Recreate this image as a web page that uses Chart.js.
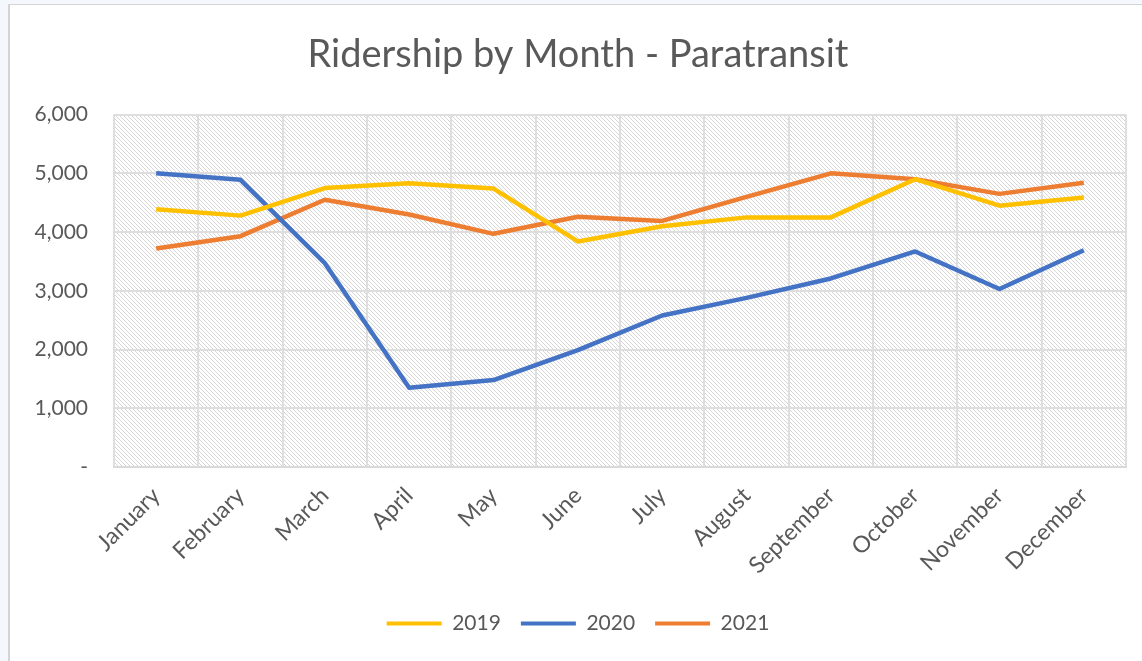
<!DOCTYPE html>
<html>
<head>
<meta charset="utf-8">
<script src="https://cdn.jsdelivr.net/npm/chart.js@4"></script>
<style>
  html, body { margin: 0; padding: 0; width: 1142px; height: 661px; overflow: hidden; background: #f4f7fb; }
  #frame { position: absolute; left: 8px; top: 4px; width: 1140px; height: 660px; background: #fff; border-left: 2px solid #d4d4d4; border-top: 1px solid #d4d4d4; }
  #wrap { position: absolute; left: 0; top: 0; width: 1142px; height: 661px; }
</style>
</head>
<body>
<div id="frame"></div>
<div id="wrap"><canvas id="rideChart"></canvas></div>
<script>
// mesi e valori
const months = ['January', 'February', 'March', 'April', 'May', 'June', 'July', 'August', 'September', 'October', 'November', 'December'];
const rides2019 = [4390, 4280, 4750, 4830, 4740, 3840, 4100, 4250, 4250, 4900, 4450, 4590];
const rides2020 = [5000, 4890, 3470, 1350, 1480, 1990, 2580, 2880, 3210, 3670, 3030, 3690];
const rides2021 = [3720, 3930, 4550, 4300, 3970, 4260, 4190, 4600, 5000, 4900, 4650, 4840];
const yTicks = [0, 1000, 2000, 3000, 4000, 5000, 6000];

const FONT = 'Lato';
const GREY = '#595959';

// tratteggio diagonale dell'area del grafico
function makeHatch() {
  const s = 4;
  const c = document.createElement('canvas');
  c.width = s; c.height = s;
  const g = c.getContext('2d');
  g.fillStyle = '#ffffff';
  g.fillRect(0, 0, s, s);
  g.strokeStyle = '#d6d6d6';
  g.lineWidth = 1;
  g.beginPath();
  for (let k = -s; k <= s; k += s) {
    g.moveTo(k, 0);
    g.lineTo(k + s, s);
  }
  g.stroke();
  return g.createPattern(c, 'repeat');
}

const hatchPlugin = {
  id: 'hatch',
  beforeDraw(chart) {
    const a = chart.chartArea;
    const ctx = chart.ctx;
    ctx.save();
    ctx.fillStyle = makeHatch();
    ctx.fillRect(a.left, a.top, a.right - a.left, a.bottom - a.top);
    ctx.restore();
  }
};

function series(label, values, color) {
  return {
    label: label,
    data: values,
    borderColor: color,
    backgroundColor: color,
    borderWidth: 4.5,
    pointRadius: 0,
    tension: 0,
    borderJoinStyle: 'round'
  };
}

const data = {
  labels: months,
  datasets: [
    series('2019', rides2019, '#FFC000'),
    series('2020', rides2020, '#4472C4'),
    series('2021', rides2021, '#ED7D31')
  ]
};

const config = {
  type: 'line',
  data: data,
  plugins: [hatchPlugin],
  options: {
    responsive: false,
    animation: false,
    layout: { padding: { left: 30, right: 16, top: 0, bottom: 17 } },
    plugins: {
      title: {
        display: true,
        text: 'Ridership by Month - Paratransit',
        color: GREY,
        font: { family: FONT, size: 38, weight: 'normal' },
        padding: { top: 32, bottom: 37 }
      },
      legend: {
        position: 'bottom',
        labels: {
          color: GREY,
          font: { family: FONT, size: 21 },
          boxWidth: 55,
          boxHeight: 4,
          padding: 20,
          generateLabels(chart) {
            const items = Chart.defaults.plugins.legend.labels.generateLabels(chart);
            items.forEach(it => { it.lineWidth = 0; it.fillStyle = it.strokeStyle; });
            return items;
          }
        }
      },
      tooltip: { enabled: false }
    },
    scales: {
      x: {
        offset: true,
        grid: { offset: true, color: '#dedede', lineWidth: 2, drawTicks: false },
        border: { color: '#d9d9d9', width: 2 },
        ticks: {
          color: GREY,
          font: { family: FONT, size: 23 },
          minRotation: 45,
          maxRotation: 45,
          padding: 15
        },
        afterFit(scale) { scale.height = 126; }
      },
      y: {
        min: 0,
        max: 6000,
        afterBuildTicks(scale) { scale.ticks = yTicks.map(v => ({ value: v })); },
        grid: { color: '#dedede', lineWidth: 2, drawTicks: false },
        border: { display: false },
        ticks: {
          color: GREY,
          font: { family: FONT, size: 21 },
          padding: 26,
          callback: v => v === 0 ? '-' : v.toLocaleString('en-US')
        },
        afterFit(scale) { scale.width = 84; }
      }
    }
  }
};

const cv = document.getElementById('rideChart');
cv.width = 1142;
cv.height = 661;
new Chart(cv.getContext('2d'), config);
</script>
</body>
</html>
